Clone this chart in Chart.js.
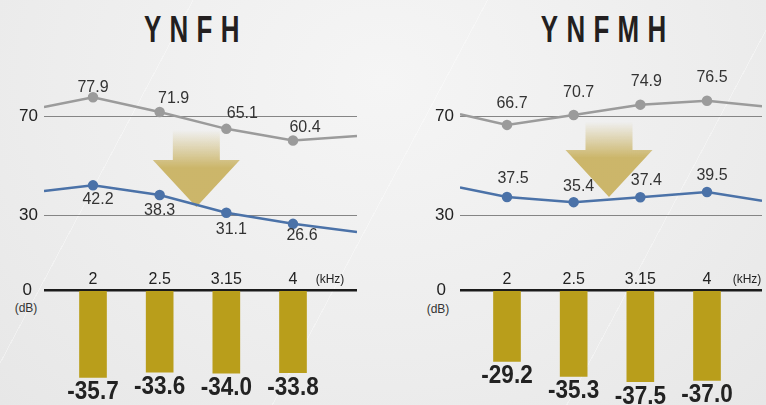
<!DOCTYPE html>
<html>
<head>
<meta charset="utf-8">
<script src="https://cdn.jsdelivr.net/npm/chart.js@4.4.1/dist/chart.umd.min.js"></script>
<style>
  html, body { margin: 0; padding: 0; }
  body {
    width: 766px; height: 405px; overflow: hidden; position: relative;
    background:
      repeating-linear-gradient(118deg, rgba(255,255,255,0) 0 170px, rgba(255,255,255,0.35) 170px 171px, rgba(255,255,255,0) 171px 260px),
      radial-gradient(ellipse at 50% 20%, #f5f5f5 0%, #ededed 60%, #e7e7e7 100%);
  }
  .title {
    position: absolute; top: 12px; width: 383px; text-align: center;
    font: bold 36px/36px "Liberation Sans", sans-serif; color: #231f20;
  }
  .title span {
    display: inline-block; letter-spacing: 11.5px; padding-left: 11.5px;
    transform: scaleX(0.72);
  }
  canvas { position: absolute; }
  .unit { position: absolute; font: 12px "Liberation Sans", sans-serif; color: #333; width: 40px; text-align: center; }
</style>
</head>
<body>
<div class="title" style="left:0"><span>YNFH</span></div>
<div class="title" style="left:412px"><span>YNFMH</span></div>
<div class="unit" style="left:6px;top:301px">(dB)</div>
<div class="unit" style="left:418px;top:302px">(dB)</div>
<canvas id="ynfhLine" width="383" height="190" style="left:0;top:60px"></canvas>
<canvas id="ynfhBar" width="383" height="155" style="left:0;top:250px"></canvas>
<canvas id="ynfmhLine" width="383" height="190" style="left:383px;top:60px"></canvas>
<canvas id="ynfmhBar" width="383" height="155" style="left:383px;top:250px"></canvas>
<script>
// frequencies (kHz) shared by both panels
const freqLabels = ['2', '2.5', '3.15', '4'];
const unitLabel = '(kHz)';
const gridTicks = [30, 70];

// YNFH: level without / with the mat, and the reduction
const ynfhUpper = [77.9, 71.9, 65.1, 60.4];
const ynfhLower = [42.2, 38.3, 31.1, 26.6];
const ynfhUpperEdges = [73.9, 62.2];   // line continues past the first / last point
const ynfhLowerEdges = [39.9, 23.3];
const ynfhReduction = [-35.7, -33.6, -34.0, -33.8];

// YNFMH
const ynfmhUpper = [66.7, 70.7, 74.9, 76.5];
const ynfmhLower = [37.5, 35.4, 37.4, 39.5];
const ynfmhUpperEdges = [71.0, 74.3];
const ynfmhLowerEdges = [41.3, 36.0];
const ynfmhReduction = [-29.2, -35.3, -37.5, -37.0];

const FONT = '"Liberation Sans", Arial, sans-serif';
const GRAY = '#9b9b9b';
const BLUE = '#4b72a8';
const GOLD = '#b99e1b';

function withEdges(values, edges, xr) {
  return [{ x: xr.min, y: edges[0] }]
    .concat(values.map((v, i) => ({ x: i, y: v })))
    .concat([{ x: xr.max, y: edges[1] }]);
}

// no extra room for the edge labels, the scale should fill the area
function noPad(s) {
  s.paddingTop = 0; s.paddingBottom = 0;
}

const pointLabels = {
  id: 'pointLabels',
  afterDatasetsDraw(chart) {
    const ctx = chart.ctx;
    chart.data.datasets.forEach((ds, di) => {
      const meta = chart.getDatasetMeta(di);
      ctx.save();
      ctx.font = '16px ' + FONT;
      ctx.fillStyle = '#333';
      ctx.textAlign = 'center';
      ctx.textBaseline = 'middle';
      ds.values.forEach((v, i) => {
        const pt = meta.data[i + 1];
        const s = ds.labelShift[i];
        ctx.fillText(v.toFixed(1), pt.x + s[0], pt.y + s[1]);
      });
      ctx.restore();
    });
  }
};

const dropArrow = {
  id: 'dropArrow',
  beforeDatasetsDraw(chart, args, opts) {
    const ctx = chart.ctx;
    const cx = chart.scales.x.getPixelForValue(opts.at);
    const tip = chart.scales.y.getPixelForValue(opts.tip);
    const headTop = tip - 47;
    const top = headTop - opts.shaft;
    const g = ctx.createLinearGradient(0, top, 0, headTop + 8);
    g.addColorStop(0, 'rgba(203,181,104,0)');
    g.addColorStop(1, 'rgba(201,178,98,0.95)');
    ctx.save();
    ctx.fillStyle = g;
    ctx.beginPath();
    ctx.moveTo(cx - 23.5, top);
    ctx.lineTo(cx + 23.5, top);
    ctx.lineTo(cx + 23.5, headTop);
    ctx.lineTo(cx + 43.5, headTop);
    ctx.lineTo(cx, tip);
    ctx.lineTo(cx - 43.5, headTop);
    ctx.lineTo(cx - 23.5, headTop);
    ctx.closePath();
    ctx.fill();
    ctx.restore();
  }
};

const barLabels = {
  id: 'barLabels',
  afterDatasetsDraw(chart) {
    const ctx = chart.ctx;
    const ds = chart.data.datasets[0];
    const meta = chart.getDatasetMeta(0);
    ctx.save();
    ctx.font = 'bold 25px ' + FONT;
    ctx.fillStyle = '#222';
    ctx.textAlign = 'center';
    ctx.textBaseline = 'middle';
    meta.data.forEach((bar, i) => {
      ctx.save();
      ctx.translate(bar.x, bar.y + 15);
      ctx.scale(0.9, 1);   // the original type is a condensed bold
      ctx.fillText(ds.values[i].toFixed(1), 0, 0);
      ctx.restore();
    });
    ctx.restore();
  }
};

function lineChart(id, upper, upperEdges, lower, lowerEdges, lay) {
  const radius = [0].concat(upper.map(() => 4)).concat([0]);
  return new Chart(document.getElementById(id), {
    type: 'line',
    data: {
      datasets: [{
        data: withEdges(upper, upperEdges, lay.x),
        values: upper, labelShift: lay.upperShift,
        borderColor: GRAY, backgroundColor: GRAY, borderWidth: 2.5,
        pointRadius: radius, tension: 0
      }, {
        data: withEdges(lower, lowerEdges, lay.x),
        values: lower, labelShift: lay.lowerShift,
        borderColor: BLUE, backgroundColor: BLUE, borderWidth: 2.5,
        pointRadius: radius, tension: 0
      }]
    },
    options: {
      responsive: false,
      animation: false,
      layout: { padding: { left: 0, right: lay.right, top: 0, bottom: 0 } },
      plugins: {
        legend: { display: false },
        tooltip: { enabled: false },
        dropArrow: lay.arrow
      },
      scales: {
        x: { type: 'linear', display: false, min: lay.x.min, max: lay.x.max },
        y: {
          min: 16, max: 93,
          afterFit: s => { s.width = lay.axisW; noPad(s); },
          afterBuildTicks: s => { s.ticks = gridTicks.map(v => ({ value: v })); },
          grid: { color: '#858585', lineWidth: 1, drawTicks: false },
          border: { display: false },
          ticks: { color: '#222', padding: 6, font: { size: 17, family: FONT } }
        }
      }
    },
    plugins: [dropArrow, pointLabels]
  });
}

function barChart(id, reduction, lay) {
  const tickPos = freqLabels.map((f, i) => i).concat([lay.unitAt]);
  return new Chart(document.getElementById(id), {
    type: 'bar',
    data: {
      datasets: [{
        data: reduction.map((v, i) => ({ x: i, y: v })),
        values: reduction,
        backgroundColor: GOLD,
        barThickness: 27
      }]
    },
    options: {
      responsive: false,
      animation: false,
      layout: { padding: { left: 0, right: lay.right, top: 0, bottom: 0 } },
      plugins: { legend: { display: false }, tooltip: { enabled: false } },
      scales: {
        x: {
          type: 'linear', position: 'top', min: lay.x.min, max: lay.x.max, offset: false,
          afterFit: s => { s.height = 40; },
          afterBuildTicks: s => { s.ticks = tickPos.map(v => ({ value: v })); },
          grid: { display: false, drawTicks: false },
          border: { display: false },
          ticks: {
            autoSkip: false, maxRotation: 0, padding: 1, color: '#222',
            callback: (v, i) => (i < freqLabels.length ? freqLabels[i] : unitLabel),
            font: c => ({ size: c.index < freqLabels.length ? 16 : 12, family: FONT, lineHeight: '18px' })
          }
        },
        y: {
          min: -47, max: 0, z: 1,
          afterFit: s => { s.width = lay.axisW; noPad(s); },
          afterBuildTicks: s => { s.ticks = [{ value: 0 }]; },
          grid: { color: '#1b1b1b', lineWidth: 2.5, drawTicks: false },
          border: { display: false },
          ticks: { color: '#222', padding: lay.zeroPad, font: { size: 17, family: FONT } }
        }
      }
    },
    plugins: [barLabels]
  });
}

const leftLayout = {
  x: { min: -0.735, max: 3.96 }, axisW: 44, right: 26, unitAt: 3.555, zeroPad: 12,
  arrow: { at: 1.55, tip: 33.4, shaft: 30 },
  upperShift: [[0, -10], [14, -13], [16, -15], [12, -13]],
  lowerShift: [[5, 14], [0, 16], [5, 17], [9, 12]]
};
const rightLayout = {
  x: { min: -0.705, max: 3.825 }, axisW: 77, right: 4, unitAt: 3.6, zeroPad: 14,
  arrow: { at: 1.53, tip: 37.5, shaft: 28 },
  upperShift: [[5, -21], [5, -22], [6, -23], [5, -23]],
  lowerShift: [[6, -18], [5, -16], [6, -17], [5, -16]]
};

lineChart('ynfhLine', ynfhUpper, ynfhUpperEdges, ynfhLower, ynfhLowerEdges, leftLayout);
barChart('ynfhBar', ynfhReduction, leftLayout);
lineChart('ynfmhLine', ynfmhUpper, ynfmhUpperEdges, ynfmhLower, ynfmhLowerEdges, rightLayout);
barChart('ynfmhBar', ynfmhReduction, rightLayout);
</script>
</body>
</html>
